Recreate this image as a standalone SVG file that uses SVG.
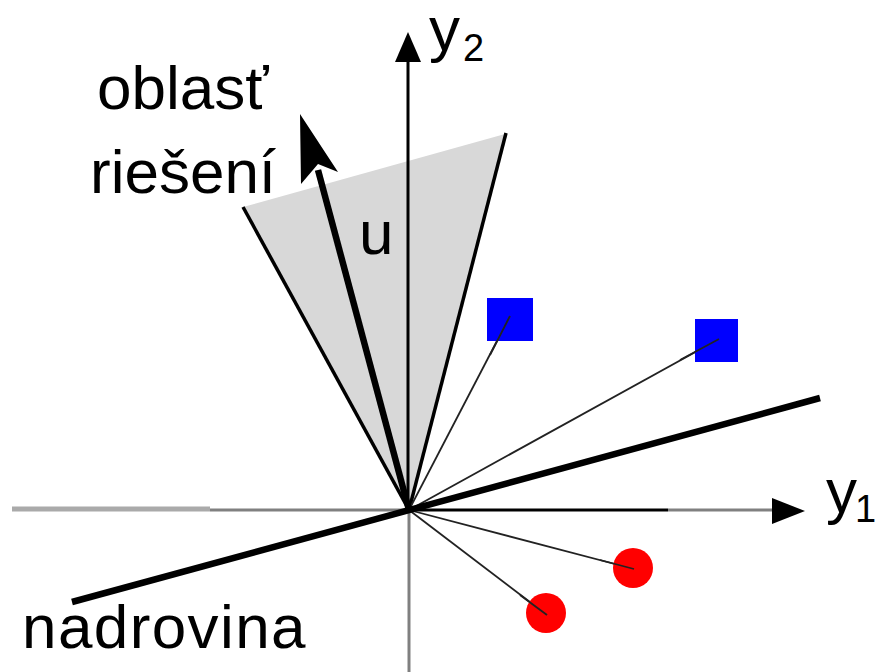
<svg xmlns="http://www.w3.org/2000/svg" width="877" height="672" viewBox="0 0 877 672">
<style>
.lbl{font-family:"Liberation Sans",Arial,sans-serif;font-size:62px;fill:#000}
.sub{font-family:"Liberation Sans",Arial,sans-serif;font-size:38px;fill:#000}
.vec{stroke:#222;stroke-width:1.8;fill:none}
</style>
<rect width="877" height="672" fill="#fff"/>
<g id="region">
<polygon points="243,207 505,134 409,510" fill="#d8d8d8"/>
<line x1="243" y1="207" x2="409" y2="510" stroke="#000" stroke-width="3.5"/>
<line x1="506" y1="133" x2="409" y2="510" stroke="#000" stroke-width="3.5"/>
</g>
<g id="connectors">
<line x1="12" y1="509" x2="210" y2="509" stroke="#aaa" stroke-width="5"/>
<line x1="210" y1="510" x2="409" y2="510" stroke="#808080" stroke-width="3"/>
<line x1="409" y1="510" x2="668" y2="510" stroke="#000" stroke-width="3"/>
<line x1="668" y1="510" x2="774" y2="510" stroke="#808080" stroke-width="3"/>
<polygon points="805,511 772,498 772,524" fill="#000"/>
<line x1="409" y1="510" x2="409" y2="672" stroke="#808080" stroke-width="3"/>
<line x1="408" y1="510" x2="408" y2="60" stroke="#000" stroke-width="3"/>
<polygon points="408,32 395,62 421,62" fill="#000"/>
<line class="vec" x1="409" y1="510" x2="510" y2="316"/>
<line class="vec" x1="409" y1="510" x2="719" y2="339"/>
<line class="vec" x1="409" y1="510" x2="634" y2="569"/>
<line class="vec" x1="409" y1="510" x2="547" y2="615"/>
<line x1="72" y1="602" x2="820" y2="398" stroke="#000" stroke-width="6.5"/>
<line x1="409" y1="510" x2="318" y2="170" stroke="#000" stroke-width="6.5"/>
<polygon points="300,114 338,172 318,164 301,184" fill="#000"/>
</g>
<g id="points">
<rect x="487" y="298" width="46" height="43" fill="#0000ff"/>
<rect x="695" y="319" width="43" height="43" fill="#0000ff"/>
<circle cx="633" cy="568" r="20" fill="#ff0000"/>
<circle cx="546" cy="613" r="20" fill="#ff0000"/>
<line class="vec" x1="490" y1="355" x2="510" y2="316"/>
<line class="vec" x1="680" y1="360" x2="719" y2="339"/>
<line class="vec" x1="600" y1="560" x2="634" y2="569"/>
<line class="vec" x1="520" y1="595" x2="547" y2="615"/>
</g>
<g id="labels">
<text class="lbl" x="97" y="109">oblasť</text>
<text class="lbl" x="90" y="193">riešení</text>
<text class="lbl" x="359" y="254">u</text>
<text class="lbl" x="22" y="648" letter-spacing="1.4">nadrovina</text>
<text class="lbl" x="429" y="50">y</text>
<text class="sub" x="463" y="61">2</text>
<text class="lbl" x="826" y="512">y</text>
<text class="sub" x="855" y="522">1</text>
</g>
</svg>
